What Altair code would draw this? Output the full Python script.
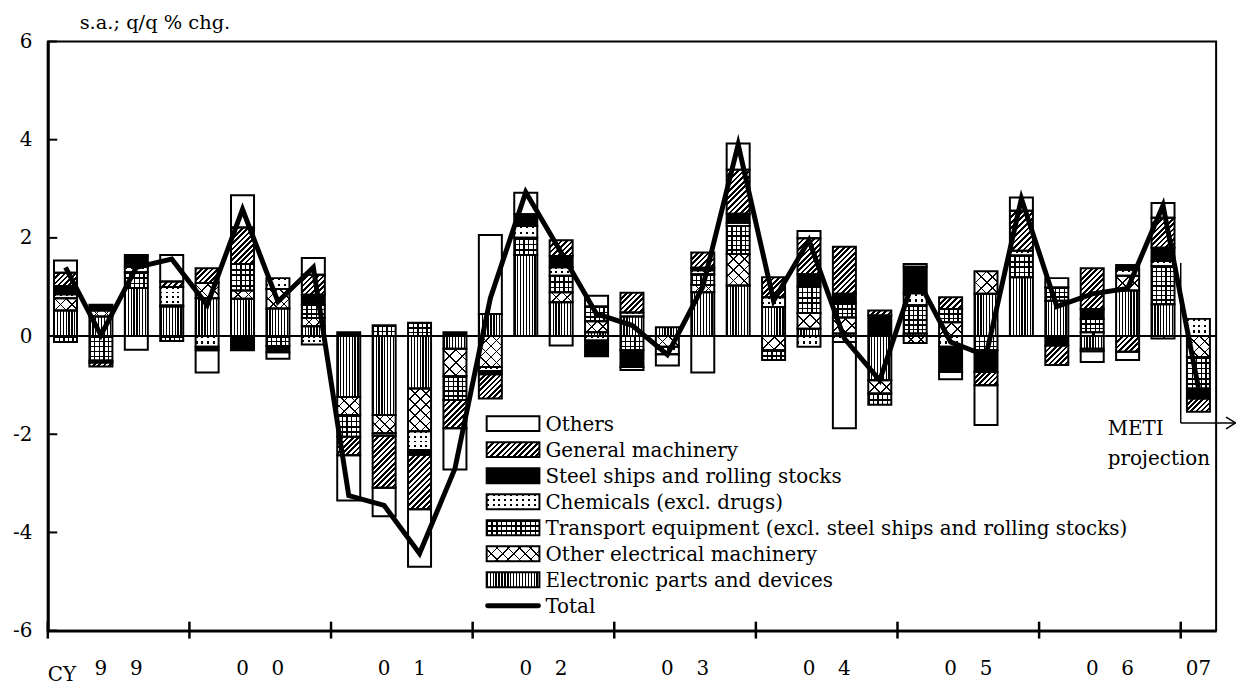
import math
import altair as alt
import pandas as pd

# ---------------- data ----------------
# quarters 1999Q1 .. 2007Q1 (33 quarters)
N_QUARTERS = 33
SERIES_KEYS = ["E", "OE", "T", "C", "S", "G", "O"]
SERIES_NAMES = {
    "E": "Electronic parts and devices",
    "OE": "Other electrical machinery",
    "T": "Transport equipment (excl. steel ships and rolling stocks)",
    "C": "Chemicals (excl. drugs)",
    "S": "Steel ships and rolling stocks",
    "G": "General machinery",
    "O": "Others",
}
LEGEND_ORDER = ["O", "G", "S", "C", "T", "OE", "E"]

ELECTRONIC = [0.52, 0.40, 0.98, 0.60, 0.77, 0.76, 0.56, 0.20, -1.24, -1.61, -1.07, -0.26, 0.45, 1.65, 0.69, 0.08,
              0.40, 0.18, 0.89, 1.03, 0.59, 0.15, 0.05, -0.90, 0.05, 0.00, 0.86, 1.20, 0.72, -0.26, 0.93, 0.65, 0.00]
OTHER_ELEC = [0.25, 0.12, 0.00, 0.02, 0.31, 0.17, 0.40, 0.17, -0.37, -0.37, -0.87, -0.56, -0.63, 0.00, 0.20, 0.22,
              0.00, -0.22, 0.15, 0.64, -0.29, 0.32, 0.33, -0.27, -0.14, 0.28, 0.46, 0.00, 0.00, 0.08, 0.30, -0.05, -0.43]
TRANSPORT = [-0.12, -0.50, 0.32, -0.10, 0.00, 0.54, -0.20, 0.27, -0.44, 0.22, 0.27, -0.48, 0.00, 0.35, 0.34, 0.30,
             -0.29, 0.00, 0.22, 0.57, -0.20, 0.54, 0.28, -0.23, 0.58, 0.27, -0.29, 0.44, 0.27, 0.27, 0.00, 0.77, -0.64]
CHEMICALS = [0.08, -0.04, 0.11, 0.38, -0.22, 0.00, 0.22, -0.17, 0.00, -0.05, -0.38, 0.00, -0.08, 0.24, 0.17, -0.09,
             0.08, -0.15, 0.08, 0.07, 0.20, -0.22, -0.12, 0.00, 0.24, -0.22, 0.00, 0.10, 0.00, -0.05, 0.12, 0.11, 0.35]
STEEL = [0.17, 0.12, 0.24, 0.00, -0.07, -0.29, -0.13, 0.20, 0.08, 0.00, -0.10, 0.08, -0.07, 0.24, 0.23, -0.32,
         -0.34, 0.00, 0.05, 0.18, 0.00, 0.25, 0.20, 0.42, 0.54, -0.51, -0.44, 0.00, -0.19, 0.20, 0.10, 0.27, -0.20]
GENERAL = [0.27, -0.08, 0.00, 0.11, 0.30, 0.74, 0.00, 0.41, -0.38, -1.06, -1.11, -0.58, -0.49, 0.00, 0.32, 0.00,
           0.40, 0.00, 0.31, 0.90, 0.41, 0.73, 0.96, 0.10, 0.00, 0.24, -0.27, 0.81, -0.40, 0.83, -0.32, 0.61, -0.27]
OTHERS = [0.25, 0.00, -0.28, 0.54, -0.45, 0.66, -0.13, 0.34, -0.92, -0.58, -1.17, -0.84, 1.61, 0.44, -0.19, 0.22,
          -0.06, -0.23, -0.74, 0.53, 0.00, 0.15, -1.76, 0.00, 0.06, -0.15, -0.81, 0.27, 0.19, -0.22, -0.17, 0.30, 0.00]
TOTAL = [1.40, 0.02, 1.40, 1.57, 0.63, 2.58, 0.70, 1.40, -3.25, -3.45, -4.43, -2.70, 0.77, 2.93, 1.70, 0.45,
         0.22, -0.38, 1.00, 3.90, 0.72, 1.95, -0.05, -0.90, 1.25, -0.12, -0.40, 2.80, 0.60, 0.86, 0.97, 2.66, -1.05]

YEAR_DIGITS = [("9", "9"), ("0", "0"), ("0", "1"), ("0", "2"), ("0", "3"), ("0", "4"), ("0", "5"), ("0", "6")]
LAST_YEAR_LABEL = "07"
Y_TICKS = [-6, -4, -2, 0, 2, 4, 6]
YEAR_BOUNDARIES = [0, 4, 8, 12, 16, 20, 24, 28, 32]

# ---------------- layout ----------------
PLOT_W, PLOT_H = 1174, 592
PXU = PLOT_H / 12.0
BAR_FRAC = 0.65
BAR_W = PLOT_W / N_QUARTERS * BAR_FRAC
FONT = "DejaVu Serif"
FS = 20

XS = alt.Scale(domain=[0, N_QUARTERS], nice=False, zero=False)
YS = alt.Scale(domain=[-6, 6], nice=False, zero=False)
XAX = alt.Axis(labels=False, ticks=False, grid=False, title=None, domainWidth=3, domainColor="black")
YAX = alt.Axis(values=Y_TICKS, labelExpr="'' + datum.value", ticks=False, grid=False, title=None,
               domainWidth=3, domainColor="black", labelFont=FONT, labelFontSize=FS,
               labelColor="black", labelPadding=16)


def X(f):
    return alt.X(f, type="quantitative", scale=XS, axis=XAX)


def Y(f):
    return alt.Y(f, type="quantitative", scale=YS, axis=YAX)


# ---------------- pattern fills (gradient stripes) ----------------
PATTERNS = {
    "E": [("v", 2.9, 0.45, "black", "white")],
    "OE": [("d1", 8.0, 0.14, "black", "white"), ("d2", 8.0, 0.14, "black", "transparent")],
    "T": [("v", 5.0, 0.3, "black", "white"), ("h", 5.0, 0.3, "black", "transparent")],
    "C": [("v", 6.0, 0.35, "black", "white"), ("h", 5.0, 0.4, "transparent", "white")],
    "S": [("solid", "black")],
    "G": [("d1", 3.9, 0.5, "black", "white")],
    "O": [("solid", "white")],
}
W_MAX, H_MAX = 60.0, 100.0


def stops_js(M, frac, c_line, c_bg):
    parts = []
    for k in range(M):
        a = f"{k}/datum.gn"
        b = f"{k + frac:.3f}/datum.gn"
        c = f"{k + 1}/datum.gn"
        parts.append(f"{{offset:{a},color:'{c_line}'}}")
        parts.append(f"{{offset:{b},color:'{c_line}'}}")
        parts.append(f"{{offset:{b},color:'{c_bg}'}}")
        parts.append(f"{{offset:{c},color:'{c_bg}'}}")
    return "[" + ",".join(parts) + "]"


def pattern_calcs(kind, period, frac, c_line, c_bg):
    if kind == "v":
        n = f"max(1, round(datum.w / {period}))"
        M = int(math.ceil(W_MAX / period)) + 2
        geo = "x1:0,y1:0,x2:1,y2:0"
    elif kind == "h":
        n = f"max(1, round(datum.h / {period}))"
        M = int(math.ceil(H_MAX / period)) + 2
        geo = "x1:0,y1:0,x2:0.000001,y2:1"
    else:
        n = f"max(1, round((datum.w + datum.h) / {period * math.sqrt(2):.4f}))"
        M = int(math.ceil((W_MAX + H_MAX) / (period * math.sqrt(2)))) + 2
        if kind == "d1":
            geo = "x1:0,y1:0,x2:datum.ga*datum.w,y2:datum.ga*datum.h"
        else:
            geo = "x1:0,y1:1,x2:datum.ga*datum.w,y2:1-datum.ga*datum.h"
    g = f"{{gradient:'linear',{geo},stops:{stops_js(M, frac, c_line, c_bg)}}}"
    return [("gn", n), ("ga", "(datum.w + datum.h) / (datum.w*datum.w + datum.h*datum.h)"), ("g", g)]


def series_layers(src, key, enc):
    layers = []
    base = src.transform_filter(f"datum.key == '{key}'")
    for p in PATTERNS[key]:
        if p[0] == "solid":
            layers.append(base.mark_rect(fill=p[1]).encode(**enc))
        else:
            ch = base
            for name, expr in pattern_calcs(*p):
                ch = ch.transform_calculate(**{name: expr})
            layers.append(ch.mark_rect().encode(fill=alt.Fill("g:N", scale=None), **enc))
    return layers


# ---------------- bars ----------------
VALUES = [ELECTRONIC, OTHER_ELEC, TRANSPORT, CHEMICALS, STEEL, GENERAL, OTHERS]
rows = []
for k, (key, vals) in enumerate(zip(SERIES_KEYS, VALUES)):
    for q, v in enumerate(vals):
        rows.append({"q": q, "key": key, "order": k, "value": v})
df = pd.DataFrame(rows)

gap = (1 - BAR_FRAC) / 2
bars_src = (
    alt.Chart(df)
    .transform_filter("datum.value != 0")
    .transform_stack(stack="value", groupby=["q"], as_=["y0", "y1"],
                     sort=[alt.SortField(field="order", order="ascending")])
    .transform_calculate(x0=f"datum.q + {gap}", x1=f"datum.q + {1 - gap}")
    .transform_calculate(w=f"{BAR_W}", h=f"abs(datum.y1 - datum.y0) * {PXU}")
)
bar_enc = dict(x=X("x0"), x2="x1:Q", y=Y("y0"), y2="y1:Q")

layers = []
for key in SERIES_KEYS:
    layers += series_layers(bars_src, key, bar_enc)
layers.append(bars_src.mark_rect(fill="transparent", stroke="black", strokeWidth=2).encode(**bar_enc))

# zero line and ticks
layers.append(alt.Chart(pd.DataFrame({"v": [0]})).mark_rule(color="black", strokeWidth=2)
              .encode(x=alt.value(0), x2=alt.value(PLOT_W), y=Y("v")))
layers.append(alt.Chart(pd.DataFrame({"v": Y_TICKS})).mark_rule(color="black", strokeWidth=2)
              .encode(x=alt.value(0), x2=alt.value(9.5), y=Y("v")))
layers.append(alt.Chart(pd.DataFrame({"v": YEAR_BOUNDARIES})).mark_rule(color="black", strokeWidth=2.5)
              .encode(x=X("v"), y=alt.value(PLOT_H - 9), y2=alt.value(PLOT_H + 8)))

# year labels
dig_rows = []
for k, (a, b) in enumerate(YEAR_DIGITS):
    dig_rows.append({"pos": 4 * k + 1.5, "txt": a})
    dig_rows.append({"pos": 4 * k + 2.5, "txt": b})
dig_rows.append({"pos": 32.5, "txt": LAST_YEAR_LABEL})
layers.append(alt.Chart(pd.DataFrame(dig_rows)).mark_text(font=FONT, fontSize=FS, align="center",
                                                          baseline="alphabetic", color="black")
              .encode(x=X("pos"), y=alt.value(PLOT_H + 45), text="txt:N"))

one = pd.DataFrame({"a": [0]})


def label(txt, x, y, size=FS):
    return alt.Chart(one).mark_text(font=FONT, fontSize=size, align="left", baseline="alphabetic",
                                    color="black").encode(x=alt.value(x), y=alt.value(y), text=alt.value(txt))


layers.append(label("CY", 0, PLOT_H + 51))
layers.append(label("s.a.; q/q % chg.", 32, -12.5, 19.5))
layers.append(label("METI", 1065, 395))
layers.append(label("projection", 1065, 426))

# METI projection arrow
arrow = pd.DataFrame({
    "x": [32, 32, 33.28, 33.28],
    "y": [1.49, -1.77, -1.65, -1.89],
    "x2": [32, 33.55, 33.55, 33.55],
    "y2": [-1.77, -1.77, -1.77, -1.77],
})
layers.append(alt.Chart(arrow).mark_rule(color="black", strokeWidth=1.5)
              .encode(x=X("x"), x2="x2:Q", y=Y("y"), y2="y2:Q"))

# total line
df_tot = pd.DataFrame({"q": list(range(N_QUARTERS)), "total": TOTAL})
layers.append(alt.Chart(df_tot).transform_calculate(xm="datum.q + 0.5")
              .mark_line(color="black", strokeWidth=5, strokeMiterLimit=10)
              .encode(x=X("xm"), y=Y("total")))

# ---------------- legend ----------------
LEG_X0, LEG_X1, LEG_TOP, LEG_STEP = 441, 494, 384, 26.15
df_leg = pd.DataFrame({"key": LEGEND_ORDER, "label": [SERIES_NAMES[k] for k in LEGEND_ORDER],
                       "row": list(range(len(LEGEND_ORDER)))})
leg_src = alt.Chart(df_leg).transform_calculate(
    lx0=f"{LEG_X0}", lx1=f"{LEG_X1}",
    ly0=f"{LEG_TOP} + datum.row * {LEG_STEP} - 7.5", ly1=f"{LEG_TOP} + datum.row * {LEG_STEP} + 7.5",
    ty=f"{LEG_TOP} + datum.row * {LEG_STEP} + 7.5",
    w=f"{LEG_X1 - LEG_X0}", h="15",
)
leg_enc = dict(x=alt.X("lx0:Q", scale=None), x2="lx1:Q", y=alt.Y("ly0:Q", scale=None), y2="ly1:Q")
for key in LEGEND_ORDER:
    layers += series_layers(leg_src, key, leg_enc)
layers.append(leg_src.mark_rect(fill="transparent", stroke="black", strokeWidth=2).encode(**leg_enc))
layers.append(leg_src.mark_text(font=FONT, fontSize=FS, align="left", baseline="alphabetic", color="black")
              .encode(x=alt.value(LEG_X1 + 6), y=alt.Y("ty:Q", scale=None), text="label:N"))
tot_y = LEG_TOP + 7 * LEG_STEP
layers.append(alt.Chart(one).mark_rule(color="black", strokeWidth=5, strokeCap="round")
              .encode(x=alt.value(LEG_X0 + 1), x2=alt.value(LEG_X1 - 1), y=alt.value(tot_y)))
layers.append(label("Total", LEG_X1 + 6, tot_y + 7.5))

chart = (
    alt.layer(*layers)
    .properties(width=PLOT_W, height=PLOT_H,
                autosize=alt.AutoSizeParams(type="none"),
                padding={"left": 40, "top": 32, "right": 25, "bottom": 56},
                background="white")
    .configure_view(stroke="black", strokeWidth=2)
)

chart.save("out.html", embed_options={"renderer": "svg", "actions": False})
